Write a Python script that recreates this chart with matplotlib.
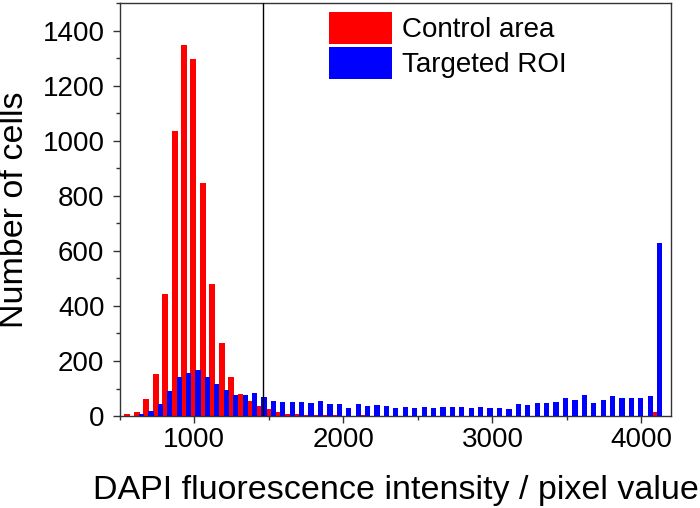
import numpy as np
import matplotlib.pyplot as plt
from matplotlib.ticker import MultipleLocator

plt.rcParams["font.family"] = ["Liberation Sans", "DejaVu Sans"]

# histogram bins (pixel value), first bin centre and bin width
bin_start = 552
bin_width = 63.2

control_counts = [6, 16, 63, 153, 442, 1034, 1347, 1297, 847, 481,
                  265, 141, 79, 56, 35, 24, 14, 8, 6, 5,
                  3, 4, 3, 2, 2, 3, 2, 2, 2, 1,
                  2, 1, 1, 2, 1, 1, 1, 2, 1, 1,
                  1, 1, 1, 1, 1, 1, 1, 1, 1, 1,
                  1, 1, 1, 1, 1, 1, 16]
roi_counts = [0, 7, 17, 44, 90, 142, 155, 167, 141, 115,
              93, 76, 76, 85, 70, 56, 52, 52, 52, 48,
              56, 45, 45, 28, 45, 36, 40, 38, 28, 33,
              28, 33, 28, 33, 33, 33, 28, 33, 28, 28,
              24, 44, 40, 48, 48, 52, 64, 59, 75, 48,
              59, 72, 64, 67, 64, 72, 630]

threshold = 1460

centres = bin_start + bin_width * np.arange(len(control_counts))

fig = plt.figure(figsize=(7.0, 5.08), dpi=100)
ax = fig.add_axes([0.171, 0.181, 0.788, 0.813])

ax.bar(centres, control_counts, width=40, color="#ff0000", label="Control area", zorder=2)
ax.bar(centres + 31, roi_counts, width=35, color="#0000ff", label="Targeted ROI", zorder=3)
ax.axvline(threshold, color="black", lw=1.0, zorder=4)

ax.set_xlim(500, 4200)
ax.set_ylim(0, 1500)
ax.xaxis.set_major_locator(MultipleLocator(1000))
ax.xaxis.set_minor_locator(MultipleLocator(500))
ax.yaxis.set_major_locator(MultipleLocator(200))
ax.yaxis.set_minor_locator(MultipleLocator(100))
ax.tick_params(which="both", direction="out", labelsize=20, width=1.0, color="#333333")
ax.tick_params(which="major", length=5)
ax.tick_params(which="minor", length=3)
ax.tick_params(axis="y", pad=6)
ax.tick_params(axis="x", pad=3)
for s in ax.spines.values():
    s.set_color("#333333")
    s.set_linewidth(1.0)

ax.set_xlabel("DAPI fluorescence intensity / pixel value", fontsize=24.5, labelpad=16)
ax.set_ylabel("Number of cells", fontsize=24.5, labelpad=9)

# handleheight chosen so the colour patches come out about 32 px tall
ax.legend(loc="upper left", bbox_to_anchor=(329 / 700, 1 - 12 / 508),
          bbox_transform=fig.transFigure, fontsize=20, frameon=False,
          handlelength=2.27, handleheight=1.392, handletextpad=0.35, labelspacing=0.12,
          borderpad=0, borderaxespad=0)

fig.savefig("out.png", dpi=100)
